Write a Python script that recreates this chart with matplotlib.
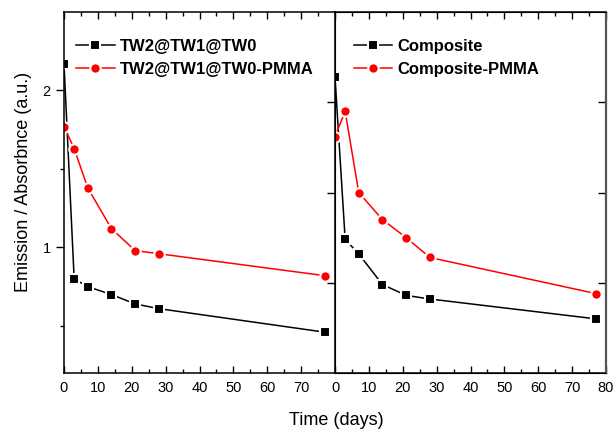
import numpy as np
import matplotlib.pyplot as plt

plt.rcParams['font.family'] = ['Liberation Sans', 'DejaVu Sans']

# time points (days)
days = [0, 3, 7, 14, 21, 28, 77]

# left panel
tw = [2.17, 0.80, 0.75, 0.70, 0.64, 0.61, 0.46]
tw_pmma = [1.77, 1.63, 1.38, 1.12, 0.98, 0.96, 0.82]

# right panel
comp = [2.14, 1.24, 1.16, 0.99, 0.93, 0.91, 0.80]
comp_pmma = [1.81, 1.95, 1.50, 1.35, 1.25, 1.14, 0.94]

fig = plt.figure(figsize=(6.14, 4.33), dpi=100)
ax1 = fig.add_axes([64/614, 60/433, 271/614, 361/433])
ax2 = fig.add_axes([335/614, 60/433, 271/614, 361/433])

sq = dict(color='black', marker='s', markersize=6.5, markerfacecolor='black',
          markeredgecolor='white', markeredgewidth=1.5, linewidth=1.1)
ci = dict(color='red', marker='o', markersize=7.5, markerfacecolor='red',
          markeredgecolor='white', markeredgewidth=1.5, linewidth=1.1)

ax1.plot(days, tw, label='TW2@TW1@TW0', **sq)
ax1.plot(days, tw_pmma, label='TW2@TW1@TW0-PMMA', **ci)
ax2.plot(days, comp, label='Composite', **sq)
ax2.plot(days, comp_pmma, label='Composite-PMMA', **ci)

ax1.set_xlim(0, 79)
ax1.set_ylim(0.2, 2.5)
ax2.set_xlim(0, 80)
ax2.set_ylim(0.5, 2.5)

for ax in (ax1, ax2):
    ax.set_xticks(np.arange(0, 81, 10))
    ax.set_xticks(np.arange(5, 80, 10), minor=True)
    ax.tick_params(axis='x', which='both', direction='in', top=True, bottom=True,
                   labelsize=10.5, pad=6)
    ax.tick_params(axis='x', which='major', length=5, width=1)
    ax.tick_params(axis='x', which='minor', length=3, width=1)
    for s in ax.spines.values():
        s.set_linewidth(1.1)
ax1.spines['right'].set_visible(False)

ax1.set_xticks(np.arange(0, 71, 10))
ax1.set_yticks([1, 2])
ax1.set_yticks([0.5, 1.5], minor=True)
ax1.tick_params(axis='y', which='both', direction='out', left=True, right=False,
                labelsize=10.5)
ax1.tick_params(axis='y', which='major', length=6, width=1)
ax1.tick_params(axis='y', which='minor', length=3, width=1)

ax2.set_yticks([1, 1.5, 2])
ax2.tick_params(axis='y', which='both', direction='out', left=True, right=False,
                labelleft=False, length=6, width=1)
ax2r = ax2.twinx()
ax2r.set_ylim(ax2.get_ylim())
ax2r.set_yticks([1, 1.5, 2])
ax2r.tick_params(axis='y', direction='in', length=6, width=1, labelright=False)
ax2r.spines['right'].set_linewidth(1.6)
ax2r.spines['right'].set_color('#555555')

ax1.legend(loc='upper left', bbox_to_anchor=(0.045, 0.925), frameon=False,
           prop={'weight': 'bold', 'size': 12}, handlelength=2.3,
           handletextpad=0.3, labelspacing=0.45, borderpad=0, borderaxespad=0)
ax2.legend(loc='upper left', bbox_to_anchor=(0.07, 0.925), frameon=False,
           prop={'weight': 'bold', 'size': 12}, handlelength=2.3,
           handletextpad=0.3, labelspacing=0.45, borderpad=0, borderaxespad=0)

fig.text(0.548, 0.028, 'Time (days)', ha='center', va='center', fontsize=13)
fig.text(0.038, 0.58, 'Emission / Absorbnce (a.u.)', ha='center', va='center',
         rotation=90, fontsize=13)

fig.savefig('out.png', dpi=100)
